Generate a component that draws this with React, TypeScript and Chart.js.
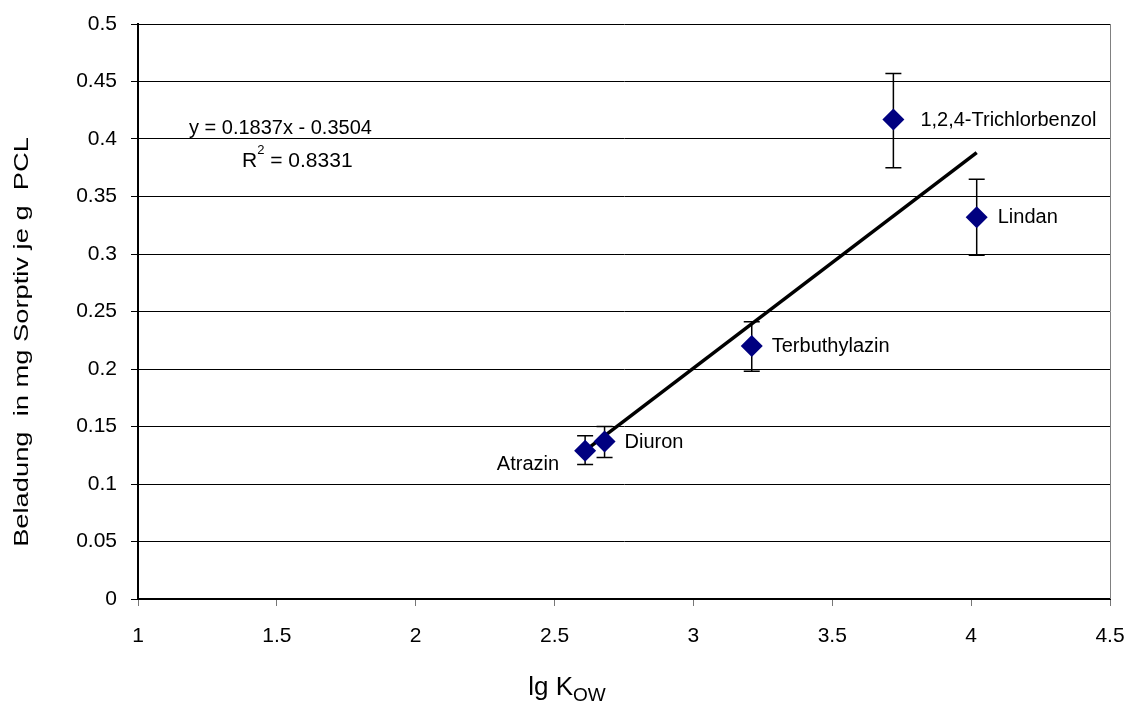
import React, { useEffect, useRef } from "react";
import { Chart, registerables } from "chart.js";

Chart.register(...registerables);

// Substances and measured loadings (mg sorptive per g PCL) vs. lg Kow
const substances = ["Atrazin", "Diuron", "Terbuthylazin", "1,2,4-Trichlorbenzol", "Lindan"];
const lgKow = [2.61, 2.68, 3.21, 3.72, 4.02];
const loading = [0.129, 0.137, 0.220, 0.417, 0.332];
const errLow = [0.117, 0.123, 0.198, 0.375, 0.299];
const errHigh = [0.142, 0.150, 0.241, 0.457, 0.365];

// Linear fit reported on the chart
const slope = 0.1837;
const intercept = -0.3504;
const rSquared = "0.8331";

// Axis ticks
const xTicks = [1, 1.5, 2, 2.5, 3, 3.5, 4, 4.5];
const yTicks = [0, 0.05, 0.1, 0.15, 0.2, 0.25, 0.3, 0.35, 0.4, 0.45, 0.5];

const FONT = "'Liberation Sans', Arial, sans-serif";

// Label placement relative to each marker: [dx, dy, align]
const labelOffsets: [number, number, CanvasTextAlign][] = [
  [-26, 14, "right"],
  [20, 1, "left"],
  [20, 0, "left"],
  [27, 1, "left"],
  [21, 0, "left"],
];

const overlay = {
  id: "overlay",
  afterDatasetsDraw(chart: any) {
    const { ctx, chartArea, scales } = chart;
    const xs = scales.x;
    const ys = scales.y;
    ctx.save();

    // right border of the plot area
    ctx.strokeStyle = "#808080";
    ctx.lineWidth = 1;
    ctx.beginPath();
    ctx.moveTo(Math.round(chartArea.right) + 0.5, chartArea.top);
    ctx.lineTo(Math.round(chartArea.right) + 0.5, chartArea.bottom);
    ctx.stroke();

    // error bars
    ctx.strokeStyle = "#000";
    ctx.lineWidth = 1.5;
    for (let i = 0; i < lgKow.length; i++) {
      const px = xs.getPixelForValue(lgKow[i]);
      const lo = ys.getPixelForValue(errLow[i]);
      const hi = ys.getPixelForValue(errHigh[i]);
      ctx.beginPath();
      ctx.moveTo(px, lo);
      ctx.lineTo(px, hi);
      ctx.moveTo(px - 8, lo);
      ctx.lineTo(px + 8, lo);
      ctx.moveTo(px - 8, hi);
      ctx.lineTo(px + 8, hi);
      ctx.stroke();
    }

    // markers drawn above the error bars
    ctx.fillStyle = "#000080";
    for (let i = 0; i < lgKow.length; i++) {
      const px = xs.getPixelForValue(lgKow[i]);
      const py = ys.getPixelForValue(loading[i]);
      const r = 11;
      ctx.beginPath();
      ctx.moveTo(px, py - r);
      ctx.lineTo(px + r, py);
      ctx.lineTo(px, py + r);
      ctx.lineTo(px - r, py);
      ctx.closePath();
      ctx.fill();
    }

    // data labels
    ctx.fillStyle = "#000";
    ctx.font = `20px ${FONT}`;
    ctx.textBaseline = "middle";
    for (let i = 0; i < substances.length; i++) {
      const px = xs.getPixelForValue(lgKow[i]);
      const py = ys.getPixelForValue(loading[i]);
      const [dx, dy, align] = labelOffsets[i];
      ctx.textAlign = align;
      ctx.fillText(substances[i], px + dx, py + dy);
    }

    // trendline equation
    ctx.textAlign = "left";
    ctx.font = `20px ${FONT}`;
    const sign = intercept < 0 ? "-" : "+";
    ctx.fillText(`y = ${slope.toFixed(4)}x ${sign} ${Math.abs(intercept).toFixed(4)}`, 189, 128);
    ctx.font = `21px ${FONT}`;
    ctx.fillText("R", 242, 161);
    const rw = ctx.measureText("R").width;
    ctx.font = `13px ${FONT}`;
    ctx.fillText("2", 242 + rw, 150);
    const sw = ctx.measureText("2").width;
    ctx.font = `21px ${FONT}`;
    ctx.fillText(` = ${rSquared}`, 242 + rw + sw, 161);

    // x-axis title with subscript
    ctx.font = `26px ${FONT}`;
    const main = "lg K";
    const mw = ctx.measureText(main).width;
    ctx.font = `19px ${FONT}`;
    const subw = ctx.measureText("OW").width;
    const startX = 567 - (mw + subw) / 2;
    ctx.font = `26px ${FONT}`;
    ctx.fillText(main, startX, 688);
    ctx.font = `19px ${FONT}`;
    ctx.fillText("OW", startX + mw, 696);

    // y-axis title
    ctx.font = `21px ${FONT}`;
    ctx.translate(22, 342);
    ctx.rotate(-Math.PI / 2);
    ctx.scale(1.3, 1);
    ctx.textAlign = "center";
    ctx.fillText("Beladung  in mg Sorptiv je g  PCL", 0, 0);

    ctx.restore();
  },
};

export default function App() {
  const ref = useRef<HTMLCanvasElement>(null);

  useEffect(() => {
    if (!ref.current) return;
    const xMin = Math.min(...lgKow);
    const xMax = Math.max(...lgKow);
    const chart = new Chart(ref.current, {
      type: "scatter",
      data: {
        datasets: [
          {
            label: "Beladung",
            data: lgKow.map((x, i) => ({ x, y: loading[i] })),
            pointStyle: "rectRot",
            pointRadius: 0,
            backgroundColor: "#000080",
            borderColor: "#000080",
          },
          {
            label: "Trend",
            type: "line",
            data: [
              { x: xMin, y: slope * xMin + intercept },
              { x: xMax, y: slope * xMax + intercept },
            ],
            borderColor: "#000",
            borderWidth: 3.5,
            pointRadius: 0,
            fill: false,
          } as any,
        ],
      },
      options: {
        responsive: false,
        animation: false,
        layout: { padding: { left: 0, top: 24, right: 22, bottom: 0 } },
        plugins: {
          legend: { display: false },
          tooltip: { enabled: false },
          title: { display: false },
        },
        scales: {
          x: {
            type: "linear",
            min: 1,
            max: 4.5,
            afterBuildTicks: (s: any) => {
              s.ticks = xTicks.map((v) => ({ value: v }));
            },
            afterFit: (s: any) => {
              s.height = 710 - 599;
              s.paddingLeft = 0;
              s.paddingRight = 0;
            },
            border: { display: true, color: "#000", width: 2 },
            grid: {
              drawOnChartArea: false,
              drawTicks: true,
              tickLength: 7,
              color: "#777",
            },
            ticks: {
              color: "#000",
              font: { family: FONT, size: 21 },
              padding: 18,
              maxRotation: 0,
              callback: (v: any) => String(v),
            },
          },
          y: {
            type: "linear",
            min: 0,
            max: 0.5,
            afterBuildTicks: (s: any) => {
              s.ticks = yTicks.map((v) => ({ value: v }));
            },
            afterFit: (s: any) => {
              s.width = 138;
              s.paddingTop = 0;
              s.paddingBottom = 0;
            },
            border: { display: true, color: "#000", width: 2 },
            grid: {
              drawOnChartArea: true,
              drawTicks: true,
              tickLength: 7,
              color: "#000",
              lineWidth: 1,
            },
            ticks: {
              color: "#000",
              font: { family: FONT, size: 21 },
              padding: 14,
              callback: (v: any) => String(v),
            },
          },
        },
      },
      plugins: [overlay],
    });
    return () => chart.destroy();
  }, []);

  return (
    <div style={{ position: "fixed", left: 0, top: 0, width: 1132, height: 710, background: "#fff" }}>
      <canvas ref={ref} width={1132} height={710} />
    </div>
  );
}
